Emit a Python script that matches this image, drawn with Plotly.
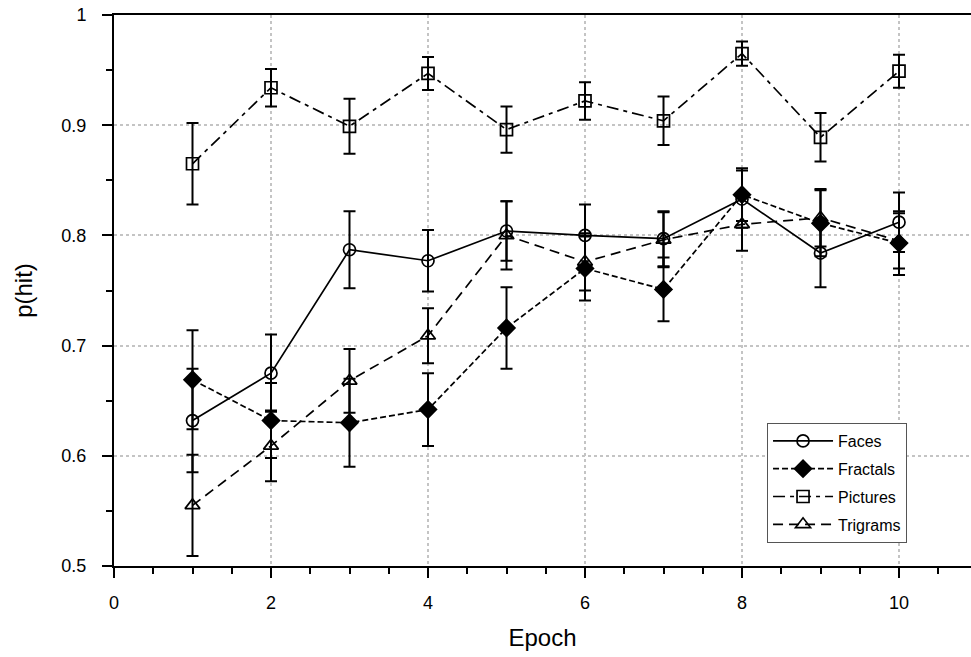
import plotly.graph_objects as go

epochs = [1, 2, 3, 4, 5, 6, 7, 8, 9, 10]

faces = [0.632, 0.675, 0.787, 0.777, 0.804, 0.800, 0.797, 0.833, 0.784, 0.812]
faces_err = [0.047, 0.035, 0.035, 0.028, 0.027, 0.028, 0.025, 0.026, 0.031, 0.027]

fractals = [0.669, 0.632, 0.630, 0.642, 0.716, 0.770, 0.751, 0.837, 0.811, 0.793]
fractals_err = [0.045, 0.034, 0.040, 0.033, 0.037, 0.029, 0.029, 0.024, 0.030, 0.029]

pictures = [0.865, 0.934, 0.899, 0.947, 0.896, 0.922, 0.904, 0.965, 0.889, 0.949]
pictures_err = [0.037, 0.017, 0.025, 0.015, 0.021, 0.017, 0.022, 0.011, 0.022, 0.015]

trigrams = [0.555, 0.609, 0.668, 0.709, 0.800, 0.776, 0.796, 0.810, 0.816, 0.795]
trigrams_err = [0.046, 0.032, 0.029, 0.025, 0.031, 0.026, 0.025, 0.024, 0.026, 0.025]

series = [
    ("Faces", faces, faces_err, "solid", "circle-open", 12),
    ("Fractals", fractals, fractals_err, "6px,3px", "diamond", 13),
    ("Pictures", pictures, pictures_err, "12px,5px,4px,5px", "square-open", 12),
    ("Trigrams", trigrams, trigrams_err, "10px,6px", "triangle-up-open", 13),
]

fig = go.Figure()
for name, vals, errs, dash, sym, msize in series:
    fig.add_trace(go.Scatter(
        x=epochs, y=vals, name=name, mode="lines+markers", legendgroup=name,
        line=dict(color="black", width=1.7, dash=dash),
        marker=dict(symbol=sym, size=msize, color="black",
                    line=dict(color="black", width=1.7)),
        error_y=dict(type="data", array=errs, visible=True,
                     color="black", thickness=2, width=6),
    ))

font_family = "Liberation Sans, Arial, Helvetica, sans-serif"

fig.update_layout(
    width=971, height=657,
    margin=dict(l=114, r=0, t=15, b=91),
    paper_bgcolor="white", plot_bgcolor="white",
    font=dict(family=font_family, color="black", size=18),
    showlegend=True,
    legend=dict(
        x=0.762, y=0.2595, xanchor="left", yanchor="top",
        bgcolor="white", bordercolor="#555", borderwidth=1,
        font=dict(size=16, family=font_family), tracegroupgap=4,
        itemwidth=60,
    ),
    xaxis=dict(
        range=[0, 10.917], tick0=0, dtick=2,
        showline=True, linecolor="black", linewidth=2, mirror=True,
        ticks="outside", ticklen=10, tickwidth=1.5, tickcolor="black",
        showgrid=True, gridcolor="#c4c4c4", griddash="dot", gridwidth=1.5,
        zeroline=False,
        minor=dict(dtick=0.5, ticks="outside", ticklen=6, tickwidth=1.5,
                   tickcolor="black", showgrid=False),
        title=dict(text="Epoch", font=dict(size=24), standoff=18),
        ticklabelstandoff=9,
        tickfont=dict(size=18),
    ),
    yaxis=dict(
        range=[0.5, 1.0],
        tickvals=[0.5, 0.6, 0.7, 0.8, 0.9, 1.0],
        ticktext=["0.5", "0.6", "0.7", "0.8", "0.9", "1"],
        showline=True, linecolor="black", linewidth=2,
        ticks="outside", ticklen=10, tickwidth=1.5, tickcolor="black",
        showgrid=True, gridcolor="#c4c4c4", griddash="dot", gridwidth=1.5,
        zeroline=False,
        minor=dict(dtick=0.05, tick0=0.5, ticks="outside", ticklen=6, tickwidth=1.5,
                   tickcolor="black", showgrid=False),
        title=dict(text="p(hit)", font=dict(size=24), standoff=22),
        ticklabelstandoff=12,
        tickfont=dict(size=18),
    ),
)

fig.write_html("out.html", config={"displayModeBar": False},
               post_script="document.body.style.margin='0';")
